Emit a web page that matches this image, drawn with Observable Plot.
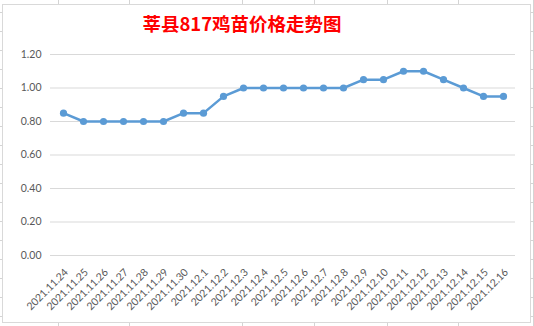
<!DOCTYPE html>
<html>
<head>
<meta charset="utf-8">
<script src="https://cdn.jsdelivr.net/npm/d3@7"></script>
<script src="https://cdn.jsdelivr.net/npm/@observablehq/plot@0.6"></script>
<style>
  html, body { margin: 0; padding: 0; background: #fff; }
  #wrap { position: relative; width: 534px; height: 326px; overflow: hidden; background: #fff; }
  #box { position: absolute; left: 2px; top: 4px; width: 527px; height: 317px;
    background: #fff; border: 1px solid #d9d9d9; }
  #chart { position: absolute; left: 0; top: 0; }
  #title { position: absolute; left: 0; width: 484px; top: 11px; text-align: center;
    font-family: "Noto Sans CJK SC", sans-serif; font-weight: bold; font-size: 18.5px;
    line-height: 24px; color: #ff0000; }
</style>
</head>
<body>
<div id="wrap">
  <div id="box"></div>
  <div id="chart"></div>
  <div id="title">莘县817鸡苗价格走势图</div>
</div>
<script>
const dates = ["2021.11.24","2021.11.25","2021.11.26","2021.11.27","2021.11.28","2021.11.29","2021.11.30",
  "2021.12.1","2021.12.2","2021.12.3","2021.12.4","2021.12.5","2021.12.6","2021.12.7","2021.12.8",
  "2021.12.9","2021.12.10","2021.12.11","2021.12.12","2021.12.13","2021.12.14","2021.12.15","2021.12.16"];
const prices = [0.85,0.80,0.80,0.80,0.80,0.80,0.85,0.85,0.95,1.00,1.00,1.00,1.00,1.00,1.00,
  1.05,1.05,1.10,1.10,1.05,1.00,0.95,0.95];
const yTicks = [0,0.2,0.4,0.6,0.8,1.0,1.2];

// column/row lines of the sheet behind the chart
const cols = [58,129,242,314,387,458,533];
const wrap = document.getElementById("wrap");
const bg = [];
cols.forEach(x => bg.push(`<div style="position:absolute;left:${x}px;top:0;width:1px;height:326px;background:#d4d4d4"></div>`));
for (let y = 12; y < 326; y += 19) bg.push(`<div style="position:absolute;left:0;top:${y}px;width:534px;height:1px;background:#d4d4d4"></div>`);
wrap.insertAdjacentHTML("afterbegin", bg.join(""));

const data = dates.map((d, i) => ({date: d, price: prices[i]}));

const chart = Plot.plot({
  width: 534,
  height: 326,
  marginLeft: 50,
  marginRight: 19,
  marginTop: 54,
  marginBottom: 71,
  style: {background: "transparent", fontFamily: "Lato, 'Liberation Sans', sans-serif", fontSize: "10.5px", color: "#595959", overflow: "visible"},
  x: {type: "point", domain: dates, padding: 0.5, label: null, axis: null},
  y: {domain: [0, 1.2], label: null},
  marks: [
    Plot.ruleY(yTicks, {stroke: "#d9d9d9", strokeWidth: 1}),
    Plot.axisY({ticks: yTicks, tickFormat: d3.format(".2f"), tickSize: 0, tickPadding: 9, label: null, fill: "#595959"}),
    Plot.text(dates, {x: d => d, frameAnchor: "bottom", rotate: -45, textAnchor: "end", lineAnchor: "middle",
      dx: 3, dy: 15, fill: "#595959", fontSize: 10.5}),
    Plot.line(data, {x: "date", y: "price", stroke: "#5b9bd5", strokeWidth: 2.5}),
    Plot.dot(data, {x: "date", y: "price", fill: "#5b9bd5", r: 3.6})
  ]
});
document.getElementById("chart").appendChild(chart);
</script>
</body>
</html>
